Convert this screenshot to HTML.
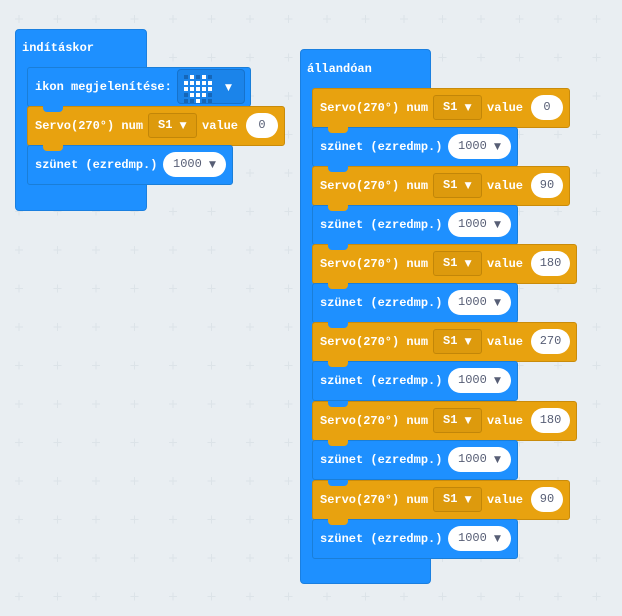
<!DOCTYPE html>
<html><head><meta charset="utf-8"><style>
body{margin:0;width:622px;height:616px;overflow:hidden;background:#e9eef2;font-family:"Liberation Mono",monospace;font-weight:bold;font-size:12px;position:relative}
.a{position:absolute;box-sizing:border-box}
.hat{background:#1e90ff;border:1px solid #1a7fe0;border-radius:4px}
.bl{background:#1e90ff;border:1px solid #1a7ed8;border-radius:3px}
.or{background:#e8a20f;border:1px solid #c98b0b;border-radius:3px}
.t{position:absolute;color:#fff;white-space:nowrap;line-height:14px}
.dd{position:absolute;background:#dd9a0d;border:1px solid #c28608;border-radius:3px;height:25px;top:7px;width:49px;color:#fff;line-height:23px;padding-left:9px;box-sizing:border-box;white-space:nowrap}
.ov{position:absolute;background:#fff;border-radius:13px;height:25px;top:7px;color:#575e75;text-align:center;line-height:25px;font-weight:normal}
.pl{position:absolute;background:#fff;border-radius:13px;height:25px;top:7px;width:63px;color:#575e75;line-height:25px;padding-left:10px;box-sizing:border-box;font-weight:normal;white-space:nowrap}
.tab{position:absolute;width:20px;height:6px;border-radius:0 0 4px 4px}
.ar{font-size:9px;font-family:"DejaVu Sans",sans-serif}
</style></head><body>
<svg class="a" style="left:0;top:0" width="622" height="616"><defs><pattern id="g" x="0" y="0" width="38.5" height="38.5" patternUnits="userSpaceOnUse"><path d="M15 19h8M19 15v8" stroke="#dce3e8" stroke-width="1"/></pattern></defs><rect width="622" height="616" fill="url(#g)"/></svg>

<div class="a hat" style="left:15px;top:29px;width:132px;height:182px"></div>
<div class="t" style="left:22px;top:41px">indításkor</div>
<div class="a" style="left:27px;top:67px;width:120px;height:118px;background:#1e90ff"></div>

<div class="a bl" style="left:27px;top:67px;width:224px;height:40px"></div>
<div class="t" style="left:35px;top:80px">ikon megjelenítése:</div>
<div class="a" style="left:177px;top:69px;width:68px;height:35px;background:#1b84ea;border:1px solid #1672cc;border-radius:4px"></div>
<svg class="a" style="left:184px;top:75px" width="32" height="28">
<g fill="#fff">
<rect x="6" y="0" width="4" height="4"/><rect x="18" y="0" width="4" height="4"/>
<rect x="0" y="6" width="4" height="4"/><rect x="6" y="6" width="4" height="4"/><rect x="12" y="6" width="4" height="4"/><rect x="18" y="6" width="4" height="4"/><rect x="24" y="6" width="4" height="4"/>
<rect x="0" y="12" width="4" height="4"/><rect x="6" y="12" width="4" height="4"/><rect x="12" y="12" width="4" height="4"/><rect x="18" y="12" width="4" height="4"/><rect x="24" y="12" width="4" height="4"/>
<rect x="6" y="18" width="4" height="4"/><rect x="12" y="18" width="4" height="4"/><rect x="18" y="18" width="4" height="4"/>
<rect x="12" y="24" width="4" height="4"/></g>
<g fill="#1566b8"><rect x="0" y="0" width="4" height="4"/><rect x="12" y="0" width="4" height="4"/><rect x="24" y="0" width="4" height="4"/><rect x="0" y="18" width="4" height="4"/><rect x="24" y="18" width="4" height="4"/><rect x="0" y="24" width="4" height="4"/><rect x="6" y="24" width="4" height="4"/><rect x="18" y="24" width="4" height="4"/><rect x="24" y="24" width="4" height="4"/></g></svg>
<div class="t ar" style="left:225px;top:81px">▼</div>

<div class="a or" style="left:27px;top:106px;width:258px;height:40px"></div>
<div class="tab" style="left:43px;top:106px;background:#1e90ff"></div>
<div class="a" style="left:27px;top:106px;width:258px;height:40px">
<div class="t" style="left:8px;top:13px">Servo(270°) num</div>
<div class="dd" style="left:121px">S1 <span class="ar">▼</span></div>
<div class="t" style="left:175px;top:13px">value</div>
<div class="ov" style="left:219px;width:32px">0</div></div>

<div class="a bl" style="left:27px;top:145px;width:206px;height:40px"></div>
<div class="tab" style="left:43px;top:145px;background:#e8a20f"></div>
<div class="a" style="left:27px;top:145px;width:206px;height:40px">
<div class="t" style="left:8px;top:13px">szünet (ezredmp.)</div>
<div class="pl" style="left:136px">1000 <span class="ar">▼</span></div></div>
<div class="tab" style="left:43px;top:185px;background:#1e90ff"></div>

<div class="a hat" style="left:300px;top:49px;width:131px;height:535px"></div>
<div class="t" style="left:307px;top:62px">állandóan</div>

<div class="a or" style="left:312px;top:88px;width:258px;height:40px"></div>
<div class="a" style="left:312px;top:88px;width:258px;height:40px"><div class="t" style="left:8px;top:13px">Servo(270°) num</div><div class="dd" style="left:121px">S1 <span class="ar">▼</span></div><div class="t" style="left:175px;top:13px">value</div><div class="ov" style="left:219px;width:32px">0</div></div>
<div class="a bl" style="left:312px;top:127px;width:206px;height:40px"></div><div class="tab" style="left:328px;top:127px;background:#e8a20f"></div>
<div class="a" style="left:312px;top:127px;width:206px;height:40px"><div class="t" style="left:8px;top:13px">szünet (ezredmp.)</div><div class="pl" style="left:136px">1000 <span class="ar">▼</span></div></div>

<div class="a or" style="left:312px;top:166px;width:258px;height:40px"></div><div class="tab" style="left:328px;top:166px;background:#1e90ff"></div>
<div class="a" style="left:312px;top:166px;width:258px;height:40px"><div class="t" style="left:8px;top:13px">Servo(270°) num</div><div class="dd" style="left:121px">S1 <span class="ar">▼</span></div><div class="t" style="left:175px;top:13px">value</div><div class="ov" style="left:219px;width:32px">90</div></div>
<div class="a bl" style="left:312px;top:205px;width:206px;height:40px"></div><div class="tab" style="left:328px;top:205px;background:#e8a20f"></div>
<div class="a" style="left:312px;top:205px;width:206px;height:40px"><div class="t" style="left:8px;top:13px">szünet (ezredmp.)</div><div class="pl" style="left:136px">1000 <span class="ar">▼</span></div></div>

<div class="a or" style="left:312px;top:244px;width:265px;height:40px"></div><div class="tab" style="left:328px;top:244px;background:#1e90ff"></div>
<div class="a" style="left:312px;top:244px;width:265px;height:40px"><div class="t" style="left:8px;top:13px">Servo(270°) num</div><div class="dd" style="left:121px">S1 <span class="ar">▼</span></div><div class="t" style="left:175px;top:13px">value</div><div class="ov" style="left:219px;width:39px">180</div></div>
<div class="a bl" style="left:312px;top:283px;width:206px;height:40px"></div><div class="tab" style="left:328px;top:283px;background:#e8a20f"></div>
<div class="a" style="left:312px;top:283px;width:206px;height:40px"><div class="t" style="left:8px;top:13px">szünet (ezredmp.)</div><div class="pl" style="left:136px">1000 <span class="ar">▼</span></div></div>

<div class="a or" style="left:312px;top:322px;width:265px;height:40px"></div><div class="tab" style="left:328px;top:322px;background:#1e90ff"></div>
<div class="a" style="left:312px;top:322px;width:265px;height:40px"><div class="t" style="left:8px;top:13px">Servo(270°) num</div><div class="dd" style="left:121px">S1 <span class="ar">▼</span></div><div class="t" style="left:175px;top:13px">value</div><div class="ov" style="left:219px;width:39px">270</div></div>
<div class="a bl" style="left:312px;top:361px;width:206px;height:40px"></div><div class="tab" style="left:328px;top:361px;background:#e8a20f"></div>
<div class="a" style="left:312px;top:361px;width:206px;height:40px"><div class="t" style="left:8px;top:13px">szünet (ezredmp.)</div><div class="pl" style="left:136px">1000 <span class="ar">▼</span></div></div>

<div class="a or" style="left:312px;top:401px;width:265px;height:40px"></div><div class="tab" style="left:328px;top:401px;background:#1e90ff"></div>
<div class="a" style="left:312px;top:401px;width:265px;height:40px"><div class="t" style="left:8px;top:13px">Servo(270°) num</div><div class="dd" style="left:121px">S1 <span class="ar">▼</span></div><div class="t" style="left:175px;top:13px">value</div><div class="ov" style="left:219px;width:39px">180</div></div>
<div class="a bl" style="left:312px;top:440px;width:206px;height:40px"></div><div class="tab" style="left:328px;top:440px;background:#e8a20f"></div>
<div class="a" style="left:312px;top:440px;width:206px;height:40px"><div class="t" style="left:8px;top:13px">szünet (ezredmp.)</div><div class="pl" style="left:136px">1000 <span class="ar">▼</span></div></div>

<div class="a or" style="left:312px;top:480px;width:258px;height:40px"></div><div class="tab" style="left:328px;top:480px;background:#1e90ff"></div>
<div class="a" style="left:312px;top:480px;width:258px;height:40px"><div class="t" style="left:8px;top:13px">Servo(270°) num</div><div class="dd" style="left:121px">S1 <span class="ar">▼</span></div><div class="t" style="left:175px;top:13px">value</div><div class="ov" style="left:219px;width:32px">90</div></div>
<div class="a bl" style="left:312px;top:519px;width:206px;height:40px"></div><div class="tab" style="left:328px;top:519px;background:#e8a20f"></div>
<div class="a" style="left:312px;top:519px;width:206px;height:40px"><div class="t" style="left:8px;top:13px">szünet (ezredmp.)</div><div class="pl" style="left:136px">1000 <span class="ar">▼</span></div></div>
<div class="tab" style="left:328px;top:559px;background:#1e90ff"></div>
</body></html>
